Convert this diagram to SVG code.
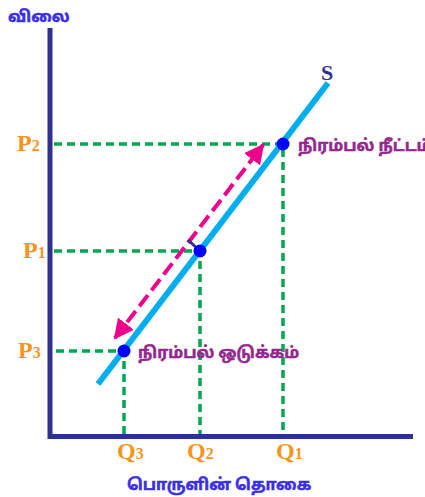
<svg xmlns="http://www.w3.org/2000/svg" width="425" height="497" viewBox="0 0 425 497">
<style>
.axis{stroke:#2e3192;stroke-width:5;fill:none}
.guide{stroke:#00a651;stroke-width:3.5;stroke-dasharray:8 5;fill:none}
.supply{stroke:#00aeef;stroke-width:6;fill:none}
.move{stroke:#ec008c;stroke-width:4;stroke-dasharray:14 6;fill:none}
.pt{fill:#0000ff}
.lab{font-family:"Liberation Serif","Times New Roman",serif;font-weight:bold;fill:#f7941d;font-size:24px}
.sub{font-size:16px}
.ta{font-family:"Noto Sans Tamil","Latha","Noto Sans",sans-serif;font-weight:bold;stroke-width:0.5px}
.axl{fill:#3a2ee6;stroke:#3a2ee6;font-size:16px}
.anno{fill:#93278f;stroke:#93278f;font-size:16px}
</style>
<defs>
<marker id="ah" viewBox="0 0 10 10" refX="9" refY="5" markerWidth="5" markerHeight="5" orient="auto-start-reverse" markerUnits="strokeWidth">
<path d="M0,0 L10,5 L0,10 Z" fill="#ec008c"/>
</marker>
</defs>
<g id="axes">
<path class="axis" d="M50,28 V436.5 H413"/>
</g>
<g id="connectors">
<path class="guide" d="M54,144 H283 V434"/>
<path class="guide" d="M54,251 H200 V434"/>
<path class="guide" d="M56,351 H124 V434"/>
<line class="supply" x1="98" y1="384" x2="328" y2="83"/>
<line class="move" x1="115" y1="338" x2="263" y2="145" marker-start="url(#ah)" marker-end="url(#ah)"/>
<line x1="188" y1="240" x2="199" y2="250" stroke="#2e3192" stroke-width="3"/>
</g>
<g id="point-p2"><circle class="pt" cx="283" cy="144" r="6.5"/></g>
<g id="point-p1"><circle class="pt" cx="200" cy="251" r="6.5"/></g>
<g id="point-p3"><circle class="pt" cx="124" cy="351" r="6.5"/></g>
<g id="labels">
<text class="lab" x="17" y="151">P<tspan class="sub">2</tspan></text>
<text class="lab" x="23" y="258">P<tspan class="sub">1</tspan></text>
<text class="lab" x="18" y="358">P<tspan class="sub">3</tspan></text>
<text class="lab" x="117" y="459">Q<tspan class="sub">3</tspan></text>
<text class="lab" x="187" y="459">Q<tspan class="sub">2</tspan></text>
<text class="lab" x="276" y="459">Q<tspan class="sub">1</tspan></text>
<text x="321" y="80" font-family="Liberation Serif,serif" font-weight="bold" font-size="22" fill="#2e3192">S</text>
<text class="ta axl" x="8" y="22">விலை</text>
<text class="ta axl" x="127" y="490">பொருளின் தொகை</text>
<text class="ta anno" x="298" y="151">நிரம்பல் நீட்டம்</text>
<text class="ta anno" x="138" y="358">நிரம்பல் ஒடுக்கம்</text>
</g>
</svg>
